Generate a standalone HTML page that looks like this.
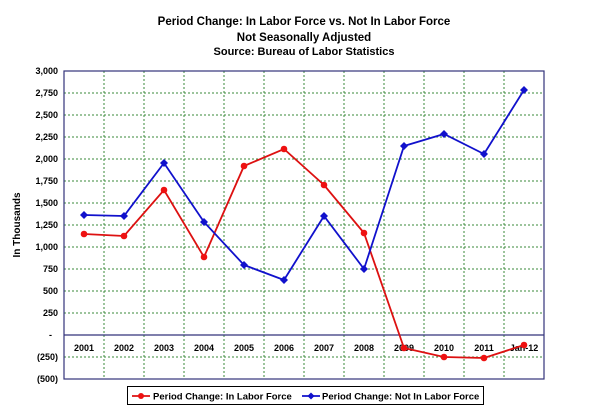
<!DOCTYPE html>
<html><head><style>body{margin:0;background:#fff}svg{display:block}</style></head><body>
<svg width="610" height="417" xmlns="http://www.w3.org/2000/svg" font-family="Liberation Sans, sans-serif">
<g font-weight="bold" text-anchor="middle" fill="#000">
<text x="304" y="25" font-size="11.5">Period Change: In Labor Force vs. Not In Labor Force</text>
<text x="304" y="41" font-size="11.5">Not Seasonally Adjusted</text>
<text x="304" y="55" font-size="11">Source: Bureau of Labor Statistics</text>
</g>
<g stroke="#3a8a3a" stroke-dasharray="2,2" stroke-width="1">
<line x1="64" x2="544" y1="93" y2="93"/><line x1="64" x2="544" y1="115" y2="115"/><line x1="64" x2="544" y1="137" y2="137"/><line x1="64" x2="544" y1="159" y2="159"/><line x1="64" x2="544" y1="181" y2="181"/><line x1="64" x2="544" y1="203" y2="203"/><line x1="64" x2="544" y1="225" y2="225"/><line x1="64" x2="544" y1="247" y2="247"/><line x1="64" x2="544" y1="269" y2="269"/><line x1="64" x2="544" y1="291" y2="291"/><line x1="64" x2="544" y1="313" y2="313"/><line x1="64" x2="544" y1="357" y2="357"/>
<line x1="104" x2="104" y1="71" y2="379"/><line x1="144" x2="144" y1="71" y2="379"/><line x1="184" x2="184" y1="71" y2="379"/><line x1="224" x2="224" y1="71" y2="379"/><line x1="264" x2="264" y1="71" y2="379"/><line x1="304" x2="304" y1="71" y2="379"/><line x1="344" x2="344" y1="71" y2="379"/><line x1="384" x2="384" y1="71" y2="379"/><line x1="424" x2="424" y1="71" y2="379"/><line x1="464" x2="464" y1="71" y2="379"/><line x1="504" x2="504" y1="71" y2="379"/>
</g>
<rect x="64" y="71" width="480" height="308" fill="none" stroke="#33337a" stroke-width="1.2"/>
<line x1="64" x2="544" y1="335" y2="335" stroke="#33337a" stroke-width="1.2"/>
<g font-size="9" font-weight="bold" text-anchor="end" fill="#000">
<text x="58" y="74">3,000</text><text x="58" y="96">2,750</text><text x="58" y="118">2,500</text><text x="58" y="140">2,250</text><text x="58" y="162">2,000</text><text x="58" y="184">1,750</text><text x="58" y="206">1,500</text><text x="58" y="228">1,250</text><text x="58" y="250">1,000</text><text x="58" y="272">750</text><text x="58" y="294">500</text><text x="58" y="316">250</text><text x="52" y="338">-</text><text x="58" y="360">(250)</text><text x="58" y="382">(500)</text>
</g>
<text transform="translate(20,225) rotate(-90)" font-size="10" font-weight="bold" text-anchor="middle">In Thousands</text>
<g font-size="9" font-weight="bold" text-anchor="middle">
<text x="84" y="351">2001</text><text x="124" y="351">2002</text><text x="164" y="351">2003</text><text x="204" y="351">2004</text><text x="244" y="351">2005</text><text x="284" y="351">2006</text><text x="324" y="351">2007</text><text x="364" y="351">2008</text><text x="404" y="351">2009</text><text x="444" y="351">2010</text><text x="484" y="351">2011</text><text x="524" y="351">Jan-12</text>
</g>
<polyline fill="none" stroke="#dd1111" stroke-width="1.8" points="84,234 124,236 164,190 204,257 244,166 284,149 324,185 364,233 404,348 444,357 484,358 524,345"/>
<g fill="#ee1111"><circle cx="84" cy="234" r="3.3"/><circle cx="124" cy="236" r="3.3"/><circle cx="164" cy="190" r="3.3"/><circle cx="204" cy="257" r="3.3"/><circle cx="244" cy="166" r="3.3"/><circle cx="284" cy="149" r="3.3"/><circle cx="324" cy="185" r="3.3"/><circle cx="364" cy="233" r="3.3"/><circle cx="404" cy="348" r="3.3"/><circle cx="444" cy="357" r="3.3"/><circle cx="484" cy="358" r="3.3"/><circle cx="524" cy="345" r="3.3"/></g>
<polyline fill="none" stroke="#1111cc" stroke-width="1.8" points="84,215 124,216 164,163 204,222 244,265 284,280 324,216 364,269 404,146 444,134 484,154 524,90"/>
<g fill="#1111cc">
<path d="M84 211l4 4-4 4-4-4z"/><path d="M124 212l4 4-4 4-4-4z"/><path d="M164 159l4 4-4 4-4-4z"/><path d="M204 218l4 4-4 4-4-4z"/><path d="M244 261l4 4-4 4-4-4z"/><path d="M284 276l4 4-4 4-4-4z"/><path d="M324 212l4 4-4 4-4-4z"/><path d="M364 265l4 4-4 4-4-4z"/><path d="M404 142l4 4-4 4-4-4z"/><path d="M444 130l4 4-4 4-4-4z"/><path d="M484 150l4 4-4 4-4-4z"/><path d="M524 86l4 4-4 4-4-4z"/>
</g>
<rect x="127.5" y="386.5" width="356" height="18" fill="#fff" stroke="#000"/>
<line x1="132" x2="150" y1="396" y2="396" stroke="#dd1111" stroke-width="1.8"/><circle cx="141" cy="396" r="3" fill="#ee1111"/>
<text x="153" y="399.5" font-size="9.5" font-weight="bold">Period Change: In Labor Force</text>
<line x1="302" x2="320" y1="396" y2="396" stroke="#1111cc" stroke-width="1.8"/><path d="M311 392.5l3.5 3.5-3.5 3.5-3.5-3.5z" fill="#1111cc"/>
<text x="322" y="399.5" font-size="9.5" font-weight="bold">Period Change: Not In Labor Force</text>
</svg>
</body></html>
